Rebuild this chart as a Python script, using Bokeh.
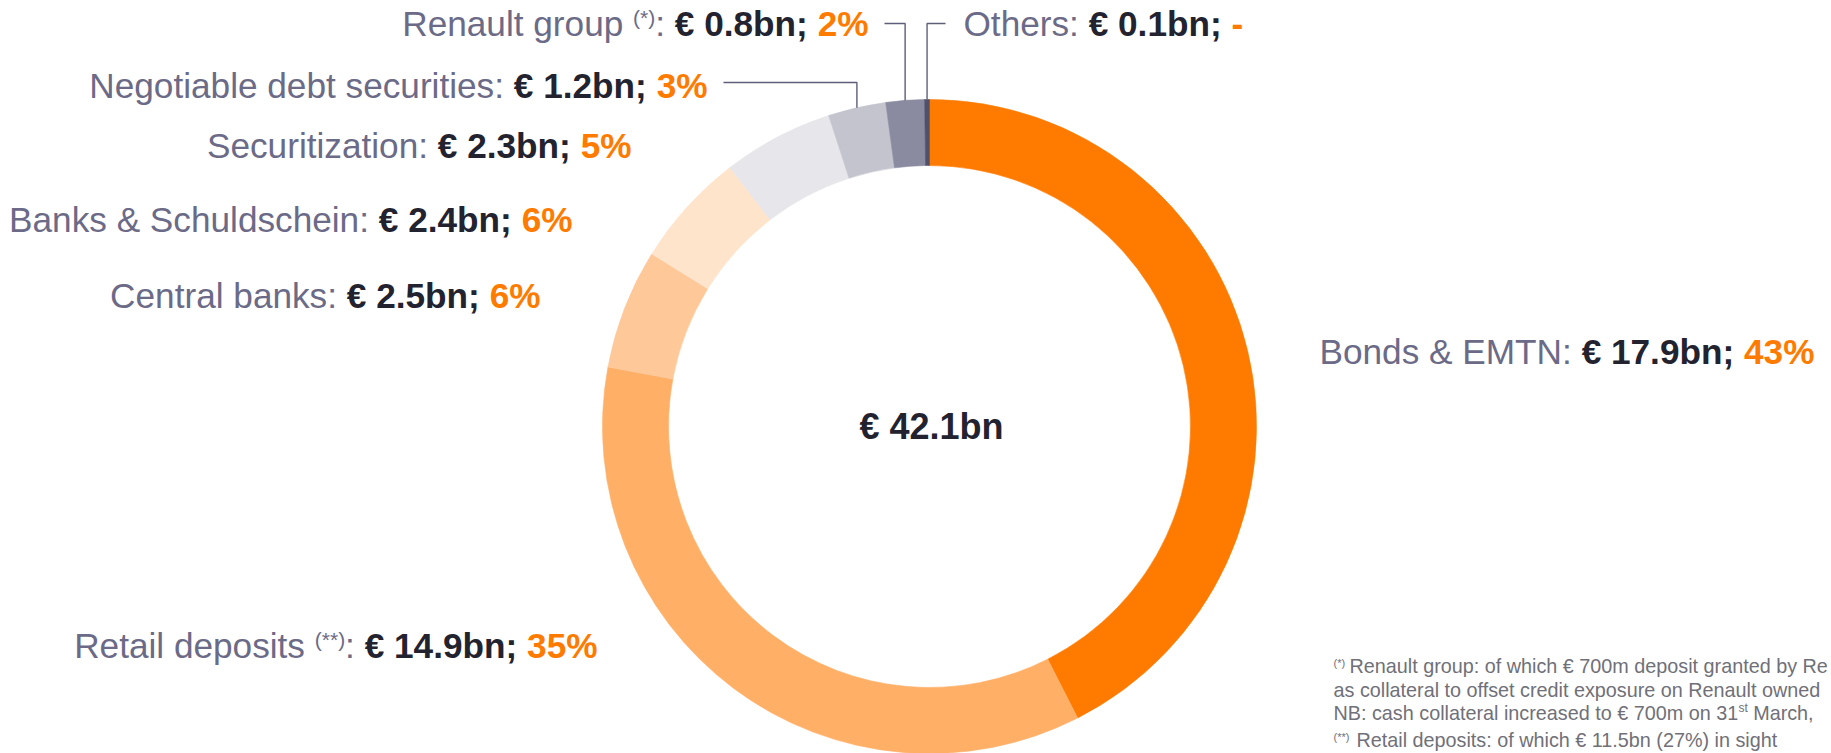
import math
from bokeh.plotting import figure
from bokeh.models import Range1d, ColumnDataSource
from bokeh.core.properties import value
from bokeh.embed import file_html
from bokeh.resources import INLINE

# ---------------- data ----------------
categories = ["Bonds & EMTN", "Retail deposits", "Central banks", "Banks & Schuldschein",
              "Securitization", "Negotiable debt securities", "Renault group", "Others"]
amounts_bn = [17.9, 14.9, 2.5, 2.4, 2.3, 1.2, 0.8, 0.1]
share_labels = ["43%", "35%", "6%", "6%", "5%", "3%", "2%", "-"]
note_marks = ["", "(**)", "", "", "", "", "(*)", ""]
total_label = "€ 42.1bn"

footnote_line1 = "Renault group: of which € 700m deposit granted by Re"
footnote_line2 = "as collateral to offset credit exposure on Renault owned"
footnote_line3a = "NB: cash collateral increased to € 700m on 31"
footnote_line3b = "st"
footnote_line3c = "March,"
footnote_line4 = "Retail deposits: of which € 11.5bn (27%) in sight"

# ---------------- style ----------------
slice_colors = ["#FF7B00", "#FFAF66", "#FFC899", "#FFE4CC",
                "#E6E6EB", "#C4C4CE", "#8A8AA0", "#50506A"]
NAME_COLOR = "#6B6A87"
VALUE_COLOR = "#232330"
PCT_COLOR = "#FF7B00"
LEADER_COLOR = "#5E5E78"
NOTE_COLOR = "#707078"
FONT = "Liberation Sans"

W, H = 1831, 753
BASELINE_FIX = 0.36   # em; compensates the renderer's baseline placement
LABEL_SIZE = 35.2
SUP_SIZE = 21
NOTE_SIZE = 19.8


def Y(s):
    # screen y (px from top) -> data y
    return H - s


CX, CY = 929, 426          # ring centre (px)
R_OUT, R_IN = 327, 261

# label layout: side, anchor x, baseline y (px)
layout = {
    0: ("left", 1319, 364),
    1: ("right", 597, 658),
    2: ("right", 540, 308),
    3: ("right", 572, 232),
    4: ("right", 631, 158),
    5: ("right", 707, 98),
    6: ("right", 868, 36),
    7: ("left", 963, 36),
}
# leader lines: slice index -> (elbow y, end x)
leaders = {5: (82, 723), 6: (23, 884), 7: (23, 945)}

# Arial / Liberation Sans advance widths (per 1000 em)
REG = {' ': 278, '&': 667, '(': 333, ')': 333, '*': 389, ':': 278, ',': 278, '.': 278,
       '%': 889, '€': 556, ';': 278, '-': 333}
for c in "0123456789":
    REG[c] = 556
REG.update(dict(zip("ABCDEFGHIJKLMNOPQRSTUVWXYZ",
                    [667, 667, 722, 722, 667, 611, 778, 722, 278, 500, 667, 556, 833, 722,
                     778, 667, 778, 722, 667, 611, 722, 667, 944, 667, 667, 611])))
REG.update(dict(zip("abcdefghijklmnopqrstuvwxyz",
                    [556, 556, 500, 556, 556, 278, 556, 556, 222, 222, 500, 222, 833, 556,
                     556, 556, 556, 333, 500, 278, 556, 500, 722, 500, 500, 500])))
BOLD = {' ': 278, '€': 556, '.': 278, ';': 333, '%': 889, '-': 333, 'b': 611, 'n': 611}
for c in "0123456789":
    BOLD[c] = 556


def text_width(s, size, style):
    table = BOLD if style == "bold" else REG
    return sum(table.get(ch, 556) for ch in s) * size / 1000.0


# ---------------- figure ----------------
p = figure(width=W, height=H, x_range=Range1d(0, W), y_range=Range1d(0, H),
           output_backend="svg", toolbar_location=None, min_border=0,
           background_fill_color="white", border_fill_color="white")
p.axis.visible = False
p.grid.visible = False
p.outline_line_color = None

# ring slices
total = sum(amounts_bn)
starts, ends, mids = [], [], []
cum = 0.0
for v in amounts_bn:
    starts.append(math.pi / 2 - 2 * math.pi * cum / total)
    ends.append(math.pi / 2 - 2 * math.pi * (cum + v) / total)
    mids.append(2 * math.pi * (cum + v / 2) / total)   # clockwise from top
    cum += v

src = ColumnDataSource(dict(start=starts, end=ends, color=slice_colors))
p.annular_wedge(x=CX, y=Y(CY), inner_radius=R_IN, outer_radius=R_OUT,
                start_angle="start", end_angle="end", direction="clock",
                fill_color="color", line_color="color", line_width=0.6, source=src)

# leader lines
lx, ly = [], []
for i, (ey, endx) in leaders.items():
    mx = CX + R_OUT * math.sin(mids[i])
    my = CY - R_OUT * math.cos(mids[i])
    lx.append([endx, mx, mx])
    ly.append([Y(ey), Y(ey), Y(my)])
p.multi_line(xs=lx, ys=ly, line_color=LEADER_COLOR, line_width=1.4)

# labels built from pieces
pieces = {}  # (size, style) -> lists


def add_piece(x, base, txt, size, style, color):
    key = (size, style)
    d = pieces.setdefault(key, dict(x=[], y=[], text=[], color=[]))
    d["x"].append(x)
    d["y"].append(Y(base - BASELINE_FIX * size))
    d["text"].append(txt)
    d["color"].append(color)


for i, name in enumerate(categories):
    side, ax, base = layout[i]
    parts = []
    if note_marks[i]:
        parts.append((name + " ", LABEL_SIZE, "normal", NAME_COLOR, 0))
        parts.append((note_marks[i], SUP_SIZE, "normal", NAME_COLOR, 11))
        parts.append((": ", LABEL_SIZE, "normal", NAME_COLOR, 0))
    else:
        parts.append((name + ": ", LABEL_SIZE, "normal", NAME_COLOR, 0))
    parts.append((f"€ {amounts_bn[i]}bn; ", LABEL_SIZE, "bold", VALUE_COLOR, 0))
    parts.append((share_labels[i], LABEL_SIZE, "bold", PCT_COLOR, 0))
    widths = [text_width(t, s, st) for (t, s, st, c, r) in parts]
    x = ax if side == "left" else ax - sum(widths)
    for (t, s, st, c, r), w in zip(parts, widths):
        add_piece(x, base - r, t.rstrip(), s, st, c)
        x += w

# footnotes
add_piece(1333, 666, "(*)", 11, "normal", NOTE_COLOR)
add_piece(1349, 673, footnote_line1, NOTE_SIZE, "normal", NOTE_COLOR)
add_piece(1333, 697, footnote_line2, NOTE_SIZE, "normal", NOTE_COLOR)
x3 = 1333
add_piece(x3, 720, footnote_line3a, NOTE_SIZE, "normal", NOTE_COLOR)
x3 += text_width(footnote_line3a, NOTE_SIZE, "normal")
add_piece(x3, 712, footnote_line3b, 12, "normal", NOTE_COLOR)
x3 += text_width(footnote_line3b + " ", 12, "normal") + 2
add_piece(x3, 720, footnote_line3c, NOTE_SIZE, "normal", NOTE_COLOR)
add_piece(1333, 740, "(**)", 11, "normal", NOTE_COLOR)
add_piece(1356, 747, footnote_line4, NOTE_SIZE, "normal", NOTE_COLOR)

for (size, style), d in pieces.items():
    p.text(x="x", y="y", text="text", text_color="color", source=ColumnDataSource(d),
           text_font=value(FONT), text_font_size=f"{size}px", text_font_style=style,
           text_align="left", text_baseline="alphabetic")

# centre total
p.text(x=[CX + 2], y=[Y(439 - BASELINE_FIX * 36)], text=[total_label], text_color=VALUE_COLOR,
       text_font=value(FONT), text_font_size="36px", text_font_style="bold",
       text_align="center", text_baseline="alphabetic")

open("out.html", "w").write(file_html(p, INLINE))
